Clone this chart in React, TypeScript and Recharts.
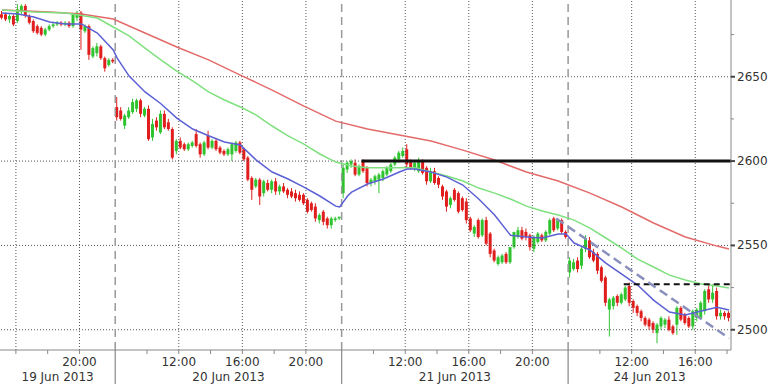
import React from 'react'
import {
  ComposedChart,
  Bar,
  Line,
  XAxis,
  YAxis,
  ReferenceLine,
} from 'recharts'

// 15-minute candles, 19 Jun 15:00 -> 24 Jun 18:00 (sessions 08:00-22:15)
const opens = [
  // 19 Jun
  2687, 2687, 2684, 2686, 2683, 2689, 2692, 2686, 2683, 2680, 2679, 2675, 2678, 2680, 2681, 2682, 2681, 2682, 2680, 2685,
  2688, 2677, 2680, 2662, 2664, 2668, 2661, 2657, 2660,
  // 20 Jun
  2632, 2630, 2621, 2626, 2629, 2631, 2636, 2627, 2631, 2614, 2624, 2617, 2628, 2623, 2619, 2606, 2612, 2610, 2607, 2609,
  2616, 2610, 2604, 2615, 2608, 2612, 2608, 2606, 2604, 2604, 2606, 2611, 2607, 2602, 2590, 2585, 2589, 2581, 2587, 2583,
  2588, 2582, 2585, 2583, 2582, 2581, 2580, 2580, 2577, 2575, 2573, 2565, 2570, 2566, 2562, 2565, 2566,
  // 21 Jun
  2581, 2595, 2598, 2599, 2592, 2600, 2596, 2587, 2588, 2589, 2590, 2592, 2594, 2598, 2601, 2603, 2607, 2600, 2596, 2594,
  2600, 2596, 2588, 2594, 2590, 2585, 2582, 2574, 2583, 2581, 2578, 2576, 2566, 2557, 2565, 2556, 2565, 2557, 2547, 2539,
  2540, 2545, 2540, 2549, 2555, 2559, 2558, 2556, 2548, 2552, 2556, 2553, 2557, 2566, 2560, 2565, 2558,
  // 24 Jun
  2534, 2536, 2541, 2538, 2548, 2553, 2546, 2545, 2537, 2531, 2512, 2514, 2520, 2516, 2518, 2526, 2517, 2514, 2511, 2507,
  2506, 2504, 2498, 2502, 2503, 2506, 2502, 2503, 2513, 2509, 2507, 2502, 2507, 2507, 2511, 2524, 2518, 2523, 2508, 2510,
  2510,
]
const highs = [
  2689, 2688, 2687, 2687, 2693, 2693, 2693, 2687, 2684, 2681, 2680, 2679, 2681, 2682, 2683, 2683, 2683, 2683, 2688, 2689,
  2689, 2681, 2681, 2668, 2670, 2669, 2662, 2661, 2661,
  2638, 2632, 2628, 2632, 2637, 2637, 2637, 2632, 2633, 2625, 2626, 2630, 2630, 2625, 2620, 2613, 2614, 2611, 2611, 2612,
  2619, 2611, 2612, 2618, 2613, 2613, 2609, 2607, 2608, 2611, 2612, 2612, 2608, 2603, 2591, 2590, 2590, 2589, 2589, 2589,
  2590, 2586, 2587, 2584, 2584, 2583, 2582, 2581, 2578, 2576, 2575, 2569, 2571, 2567, 2567, 2567, 2567,
  2598, 2600, 2601, 2601, 2598, 2601, 2597, 2590, 2592, 2593, 2595, 2597, 2599, 2603, 2606, 2608, 2610, 2601, 2600, 2602,
  2601, 2597, 2596, 2596, 2591, 2586, 2583, 2579, 2584, 2582, 2579, 2578, 2567, 2562, 2566, 2566, 2567, 2558, 2548, 2544,
  2545, 2546, 2549, 2558, 2561, 2561, 2560, 2557, 2556, 2558, 2557, 2559, 2566, 2567, 2566, 2566, 2559,
  2543, 2542, 2543, 2549, 2556, 2555, 2548, 2546, 2538, 2532, 2519, 2520, 2521, 2522, 2526, 2528, 2518, 2515, 2512, 2508,
  2507, 2505, 2504, 2508, 2507, 2508, 2503, 2514, 2514, 2510, 2508, 2512, 2513, 2517, 2524, 2527, 2527, 2525, 2512, 2511,
  2511,
]
const lows = [
  2684, 2683, 2682, 2680, 2682, 2687, 2685, 2681, 2676, 2675, 2674, 2674, 2677, 2679, 2680, 2680, 2680, 2679, 2679, 2683,
  2666, 2676, 2660, 2661, 2662, 2660, 2653, 2656, 2658,
  2624, 2624, 2619, 2625, 2628, 2629, 2626, 2626, 2612, 2612, 2618, 2616, 2619, 2618, 2601, 2604, 2607, 2606, 2606, 2608,
  2608, 2602, 2603, 2607, 2607, 2606, 2604, 2603, 2603, 2600, 2605, 2604, 2600, 2588, 2577, 2584, 2574, 2579, 2582, 2581,
  2580, 2580, 2581, 2578, 2578, 2576, 2576, 2574, 2569, 2570, 2564, 2563, 2562, 2560, 2560, 2564, 2565,
  2578, 2593, 2596, 2591, 2591, 2593, 2585, 2585, 2586, 2581, 2588, 2591, 2593, 2597, 2599, 2602, 2596, 2595, 2594, 2593,
  2592, 2586, 2587, 2586, 2584, 2577, 2570, 2572, 2576, 2569, 2570, 2563, 2558, 2555, 2554, 2555, 2550, 2543, 2540, 2538,
  2539, 2539, 2539, 2548, 2554, 2553, 2553, 2547, 2546, 2551, 2552, 2552, 2556, 2558, 2559, 2557, 2554,
  2531, 2535, 2534, 2536, 2546, 2542, 2540, 2533, 2528, 2514, 2496, 2512, 2514, 2515, 2517, 2514, 2510, 2508, 2505, 2502,
  2500, 2498, 2492, 2500, 2501, 2499, 2497, 2497, 2505, 2503, 2501, 2500, 2505, 2506, 2509, 2516, 2516, 2506, 2506, 2506,
  2505,
]
const closes = [
  2685, 2684, 2686, 2681, 2690, 2692, 2686, 2682, 2677, 2676, 2675, 2678, 2680, 2681, 2682, 2681, 2682, 2680, 2687, 2688,
  2678, 2680, 2663, 2667, 2668, 2661, 2655, 2660, 2659,
  2626, 2625, 2627, 2630, 2635, 2636, 2628, 2631, 2613, 2622, 2620, 2628, 2620, 2619, 2602, 2612, 2608, 2607, 2610, 2611,
  2609, 2604, 2611, 2608, 2612, 2607, 2605, 2604, 2607, 2610, 2611, 2605, 2601, 2589, 2583, 2589, 2579, 2588, 2583, 2588,
  2582, 2585, 2582, 2580, 2579, 2578, 2577, 2575, 2570, 2571, 2566, 2568, 2564, 2562, 2566, 2566, 2567,
  2596, 2599, 2600, 2592, 2597, 2594, 2587, 2589, 2591, 2592, 2594, 2596, 2598, 2602, 2605, 2606, 2598, 2596, 2599, 2600,
  2593, 2588, 2594, 2587, 2586, 2579, 2573, 2578, 2577, 2570, 2571, 2565, 2559, 2561, 2555, 2565, 2551, 2545, 2541, 2543,
  2544, 2540, 2549, 2558, 2559, 2554, 2555, 2549, 2555, 2557, 2553, 2558, 2565, 2559, 2565, 2558, 2555,
  2541, 2540, 2536, 2548, 2554, 2543, 2541, 2535, 2529, 2516, 2518, 2519, 2516, 2521, 2525, 2516, 2513, 2510, 2507, 2503,
  2502, 2500, 2503, 2507, 2506, 2500, 2498, 2513, 2506, 2504, 2502, 2511, 2512, 2516, 2523, 2518, 2522, 2508, 2510, 2508,
  2507,
]

// moving averages as [bar, value]
const maFast = [
  [0, 2687.8], [4, 2687.2], [8, 2685.4], [12, 2682.5], [16, 2681.3], [20, 2681.3], [24, 2675.9], [28, 2665.9], [29, 2661],
  [32, 2650.4], [36, 2641], [40, 2634], [44, 2625.5], [48, 2619], [52, 2615], [56, 2611.3], [60, 2609.5], [64, 2600.6],
  [68, 2593.5], [72, 2589.4], [76, 2584.6], [80, 2579.3], [84, 2573.3], [85, 2572.8], [87, 2579.3], [88, 2581.6],
  [92, 2586.4], [96, 2589.4], [100, 2593.5], [102, 2595.3], [104, 2595.3], [108, 2593.5], [112, 2590.5], [116, 2585.8],
  [120, 2577.5], [124, 2568], [128, 2556], [132, 2555], [136, 2554.4], [140, 2556.7], [142, 2556.7], [144, 2551.4],
  [148, 2547.3], [152, 2539.5], [156, 2533], [160, 2526.5], [164, 2517.6], [168, 2510.5], [172, 2508.7], [176, 2511.1],
  [180, 2513.4], [183, 2511.7],
]
const maMid = [
  [0, 2689.6], [8, 2688.4], [16, 2687.8], [24, 2684.8], [28, 2679.5], [32, 2674.2], [36, 2667], [40, 2660], [44, 2653.4],
  [48, 2647.5], [52, 2641], [56, 2636.2], [60, 2632.1], [64, 2627.3], [68, 2620.8], [72, 2614.9], [76, 2610.1],
  [80, 2604.2], [84, 2599.4], [88, 2597.1], [92, 2596], [100, 2596], [104, 2596], [108, 2593.5], [112, 2591.1],
  [116, 2588.2], [120, 2584], [124, 2581], [128, 2577.5], [132, 2573.3], [136, 2570.4], [140, 2568], [144, 2565],
  [148, 2560.3], [152, 2554.4], [156, 2548.4], [160, 2541.9], [164, 2537.2], [168, 2532.4], [172, 2529.5],
  [176, 2527.1], [180, 2525.9], [183, 2524.7],
]
const maSlow = [
  [0, 2689.6], [12, 2688.4], [20, 2687.2], [28, 2684.2], [36, 2675.9], [44, 2667.6], [52, 2660], [60, 2651],
  [68, 2642.1], [76, 2632.6], [84, 2623.7], [92, 2619], [100, 2615.4], [108, 2611.9], [116, 2606.5], [124, 2600.6],
  [132, 2593.5], [140, 2588.2], [148, 2581], [156, 2572.8], [164, 2563.3], [172, 2555], [180, 2549.6], [183, 2547.9],
]

// axis: bar boundaries for ticks, labels
const hourTicks = [4, 12, 20, 37, 45, 53, 61, 69, 77, 94, 102, 110, 118, 126, 134, 151, 159, 167, 175, 183]
const hourLabels: Record<number, string> = {
  20: '20:00', 45: '12:00', 61: '16:00', 77: '20:00', 102: '12:00', 118: '16:00', 134: '20:00', 159: '12:00', 175: '16:00',
}
const gridHours = [4, 20, 45, 61, 77, 102, 118, 134, 159, 175]
const dayStarts = [29, 86, 143]
const dateTicks = [14.5, 57.5, 114.5, 163.5]
const dateLabels = ['19 Jun 2013', '20 Jun 2013', '21 Jun 2013', '24 Jun 2013']
const priceTicks = [2500, 2525, 2550, 2575, 2600, 2625, 2650, 2675]
const priceLabels = [2500, 2550, 2600, 2650]

const UP = '#2fc42f'
const DOWN = '#e01e1e'
const FONT = '"DejaVu Sans", Verdana, sans-serif'

const data = closes.map((c, i) => {
  const row: any = { t: i + 0.5, o: opens[i], h: highs[i], l: lows[i], c, range: [lows[i], highs[i]] }
  const f = maFast.find((p) => p[0] === i)
  const m = maMid.find((p) => p[0] === i)
  const s = maSlow.find((p) => p[0] === i)
  row.fast = f ? f[1] : null
  row.mid = m ? m[1] : null
  row.slow = s ? s[1] : null
  return row
})

const Candle = (props: any) => {
  const { x, y, width, height, payload } = props
  const { o, h, l, c } = payload
  const top = Math.min(y, y + height)
  const bottom = Math.max(y, y + height)
  const k = h > l ? (bottom - top) / (h - l) : 0
  const py = (v: number) => top + (h - v) * k
  const color = c >= o ? UP : DOWN
  const cx = x + width / 2
  const b1 = py(Math.max(o, c))
  const b2 = py(Math.min(o, c))
  return (
    <g>
      <line x1={cx} x2={cx} y1={top} y2={bottom} stroke={color} strokeWidth={1} />
      <rect x={x} y={b1} width={width} height={Math.max(1, b2 - b1)} fill={color} />
    </g>
  )
}

const TimeTick = (props: any) => {
  const { x, y, payload } = props
  const v = payload.value
  const di = dateTicks.indexOf(v)
  if (di >= 0) {
    return (
      <text x={x} y={y + 31} textAnchor="middle" fontSize={12} fontFamily={FONT} fill="#333">
        {dateLabels[di]}
      </text>
    )
  }
  if (dayStarts.includes(v)) {
    return <line x1={x} x2={x} y1={y} y2={y + 40} stroke="#888" strokeWidth={1.2} />
  }
  return (
    <g>
      <line x1={x} x2={x} y1={y} y2={y + 4} stroke="#888" />
      {hourLabels[v] && (
        <text x={x} y={y + 16} textAnchor="middle" fontSize={12} fontFamily={FONT} fill="#333">
          {hourLabels[v]}
        </text>
      )}
    </g>
  )
}

const PriceTick = (props: any) => {
  const { x, y, payload } = props
  const major = priceLabels.includes(payload.value)
  return (
    <g>
      <line x1={x} x2={x + (major ? 4 : 3)} y1={y} y2={y} stroke={major ? '#444' : '#888'} strokeWidth={major ? 2 : 1} />
      {major && (
        <text x={x + 6} y={y + 4} fontSize={12} fontFamily={FONT} fill="#333">
          {payload.value}
        </text>
      )}
    </g>
  )
}

export default function App() {
  return (
    <div style={{ position: 'absolute', left: 0, top: 0, width: 768, height: 384, background: '#fff' }}>
      <ComposedChart width={768} height={384} data={data} margin={{ top: 0, right: 0, bottom: 0, left: 0 }}>
        <XAxis
          dataKey="t"
          type="number"
          domain={[0, 184]}
          ticks={[...hourTicks, ...dayStarts, ...dateTicks]}
          interval={0}
          height={34}
          tickSize={0}
          tickMargin={0}
          tickLine={false}
          tick={<TimeTick />}
          axisLine={{ stroke: '#888' }}
          allowDataOverflow
        />
        <YAxis
          orientation="right"
          type="number"
          domain={[2488, 2695.5]}
          ticks={priceTicks}
          interval={0}
          width={37}
          tickSize={0}
          tickMargin={0}
          tickLine={false}
          tick={<PriceTick />}
          axisLine={{ stroke: '#888' }}
          allowDataOverflow
        />
        {priceLabels.map((p) => (
          <ReferenceLine key={'h' + p} y={p} stroke="#555" strokeDasharray="1 2" />
        ))}
        {gridHours.map((g) => (
          <ReferenceLine key={'v' + g} x={g} stroke="#555" strokeDasharray="1 2" />
        ))}
        {dayStarts.map((d) => (
          <ReferenceLine key={'d' + d} x={d} stroke="#999" strokeWidth={1.5} strokeDasharray="8 5" />
        ))}
        <Bar dataKey="range" barSize={3} shape={<Candle />} activeBar={false} isAnimationActive={false} />
        <Line dataKey="slow" stroke="#e46a6a" strokeWidth={1.5} dot={false} activeDot={false} connectNulls isAnimationActive={false} />
        <Line dataKey="mid" stroke="#7fe07f" strokeWidth={1.5} dot={false} activeDot={false} connectNulls isAnimationActive={false} />
        <Line dataKey="fast" stroke="#5b60d4" strokeWidth={1.5} dot={false} activeDot={false} connectNulls isAnimationActive={false} />
        <ReferenceLine segment={[{ x: 91, y: 2600 }, { x: 184, y: 2600 }]} stroke="#111" strokeWidth={3} />
        <ReferenceLine
          segment={[{ x: 157, y: 2527 }, { x: 184, y: 2527 }]}
          stroke="#111"
          strokeWidth={2}
          strokeDasharray="6 4"
        />
        <ReferenceLine
          segment={[{ x: 140, y: 2566 }, { x: 183.5, y: 2495 }]}
          stroke="#8a90bc"
          strokeWidth={2.5}
          strokeDasharray="9 5"
        />
      </ComposedChart>
    </div>
  )
}
